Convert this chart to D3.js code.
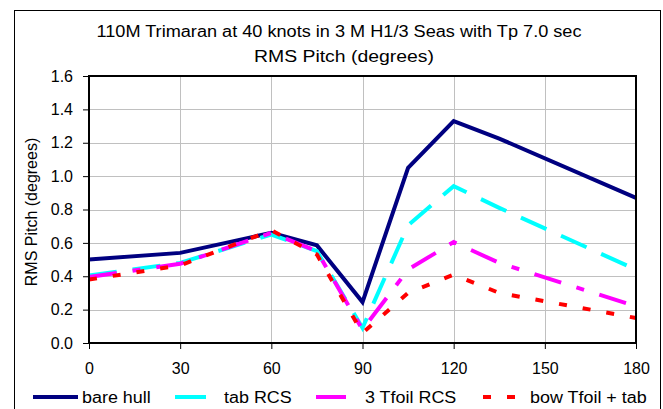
<!DOCTYPE html>
<html>
<head>
<meta charset="utf-8">
<title>RMS Pitch</title>
<style>
body { margin: 0; background: #fff; }
text { font-family: "Liberation Sans", Arial, sans-serif; fill: #000; }
.grid line { stroke: #c0c0c0; stroke-width: 1; }
.axis path { display: none; }
.axis line { stroke: #000; }
.axis text { font-size: 16px; font-family: "Liberation Sans", Arial, sans-serif; }
.series { fill: none; stroke-width: 4; stroke-linejoin: miter; }
</style>
</head>
<body>
<svg id="chart" width="663" height="409"></svg>
<script src="https://d3js.org/d3.v7.min.js"></script>
<script>
// heading in degrees
var headings = [0, 30, 60, 75, 90, 105, 120, 135, 180];

var bareHull    = [0.50, 0.54, 0.66, 0.585, 0.245, 1.05, 1.33, 1.225, 0.87];
var tabRCS      = [0.405, 0.48, 0.65, 0.55, 0.09, 0.705, 0.94, 0.81, 0.44];
var tfoilRCS    = [0.395, 0.475, 0.66, 0.55, 0.08, 0.44, 0.605, 0.48, 0.22];
var bowTfoilTab = [0.38, 0.465, 0.675, 0.53, 0.06, 0.30, 0.41, 0.30, 0.15];

var seriesNames = ["bare hull", "tab RCS", "3 Tfoil RCS", "bow Tfoil + tab"];
var xTicks = [0, 30, 60, 90, 120, 150, 180];
var yTicks = [0, 0.2, 0.4, 0.6, 0.8, 1.0, 1.2, 1.4, 1.6];

var styles = [
  {color: "#000080", dash: null},
  {color: "#00ffff", dash: "28,16"},
  {color: "#ff00ff", dash: "28,16,8,16"},
  {color: "#ff0000", dash: "8,16"}
];

var svg = d3.select("#chart");
var plotL = 89, plotR = 636, plotT = 76, plotB = 343;

var x = d3.scaleLinear().domain([0, 180]).range([plotL, plotR]);
var y = d3.scaleLinear().domain([0, 1.6]).range([plotB, plotT]);

// outer chart border
svg.append("rect")
  .attr("x", 14.5).attr("y", 10.5)
  .attr("width", 646).attr("height", 420)
  .attr("fill", "none").attr("stroke", "#000").attr("stroke-width", 1);

// title (excel picture was stretched sideways, so fit the widths)
svg.append("text").attr("x", 339).attr("y", 37)
  .attr("text-anchor", "middle").style("font-size", "16px")
  .attr("textLength", 485).attr("lengthAdjust", "spacingAndGlyphs")
  .text("110M Trimaran at 40 knots in 3 M H1/3 Seas with Tp 7.0 sec");
svg.append("text").attr("x", 344).attr("y", 62)
  .attr("text-anchor", "middle").style("font-size", "16px")
  .attr("textLength", 180).attr("lengthAdjust", "spacingAndGlyphs")
  .text("RMS Pitch (degrees)");

// gridlines
var grid = svg.append("g").attr("class", "grid");
grid.selectAll(".h").data(yTicks.slice(1)).enter().append("line")
  .attr("x1", plotL).attr("x2", plotR)
  .attr("y1", function(d) { return Math.round(y(d)) + 0.5; })
  .attr("y2", function(d) { return Math.round(y(d)) + 0.5; });
grid.selectAll(".v").data(xTicks.slice(1, -1)).enter().append("line")
  .attr("y1", plotT).attr("y2", plotB)
  .attr("x1", function(d) { return Math.round(x(d)) + 0.5; })
  .attr("x2", function(d) { return Math.round(x(d)) + 0.5; });

// axes
svg.append("g").attr("class", "axis")
  .attr("transform", "translate(" + plotL + ",0)")
  .call(d3.axisLeft(y).tickValues(yTicks).tickSize(6).tickPadding(10)
    .tickFormat(d3.format(".1f")));
svg.append("g").attr("class", "axis")
  .attr("transform", "translate(0," + plotB + ")")
  .call(d3.axisBottom(x).tickValues(xTicks).tickSize(6).tickPadding(14));

svg.append("text")
  .attr("transform", "translate(37,212) rotate(-90)")
  .attr("text-anchor", "middle").style("font-size", "16px")
  .text("RMS Pitch (degrees)");

// series
var allSeries = [bareHull, tabRCS, tfoilRCS, bowTfoilTab];
var line = d3.line()
  .x(function(d, i) { return x(headings[i]); })
  .y(function(d) { return y(d); });

svg.selectAll(".series").data(allSeries).enter().append("path")
  .attr("class", "series")
  .attr("d", line)
  .attr("stroke", function(d, i) { return styles[i].color; })
  .attr("stroke-dasharray", function(d, i) { return styles[i].dash; });

// plot border
svg.append("rect")
  .attr("x", plotL).attr("y", plotT)
  .attr("width", plotR - plotL).attr("height", plotB - plotT)
  .attr("fill", "none").attr("stroke", "#000").attr("stroke-width", 2);

// legend
var legendItems = [
  {x1: 33, x2: 78, tx: 82},
  {x1: 175, x2: 206, tx: 224},
  {x1: 316, x2: 346, tx: 365},
  {x1: 483, x2: 515, tx: 530}
];
var lg = svg.append("g");
legendItems.forEach(function(it, i) {
  lg.append("line")
    .attr("x1", it.x1).attr("x2", it.x2)
    .attr("y1", 397).attr("y2", 397)
    .attr("stroke", styles[i].color).attr("stroke-width", 4)
    .attr("stroke-dasharray", i === 3 ? "8,16" : null);
  var t = lg.append("text").attr("x", it.tx).attr("y", 403)
    .style("font-size", "16px")
    .text(seriesNames[i]);
  var w = t.node().getComputedTextLength();
  t.attr("textLength", w * 1.12).attr("lengthAdjust", "spacingAndGlyphs");
});
</script>
</body>
</html>
